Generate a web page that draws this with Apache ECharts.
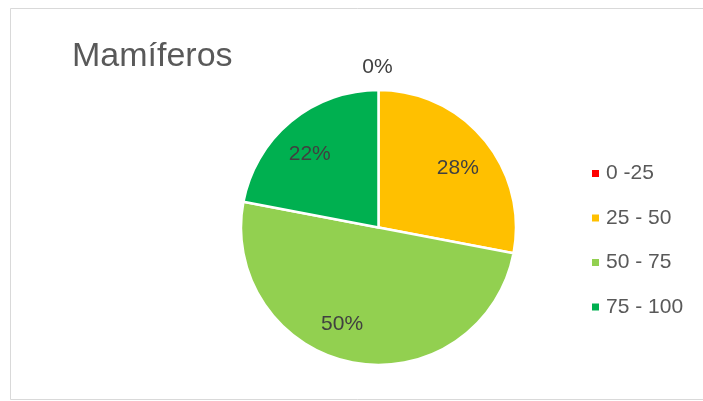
<!DOCTYPE html>
<html>
<head>
<meta charset="utf-8">
<script src="https://cdn.jsdelivr.net/npm/echarts@6/dist/echarts.min.js"></script>
<style>
  html, body { margin: 0; padding: 0; background: #fff; }
  #chart { width: 703px; height: 401px; }
</style>
</head>
<body>
<div id="chart"></div>
<script>
// Share of mammal records per score band (percent)
const titleText = 'Mamíferos';
const categories = ['0 -25', '25 - 50', '50 - 75', '75 - 100'];
const values = [0, 28, 50, 22];
const colors = ['#FF0000', '#FFC000', '#92D050', '#00B050'];

// Label nudges so each percentage sits where the chart places it
const labelOffsets = [[-1, -89], [24, -14], [-23, 26], [-23, -18]];

const chart = echarts.init(document.getElementById('chart'), null, { renderer: 'canvas' });

const pieData = categories.map((name, i) => ({
  name: name,
  value: values[i],
  itemStyle: { color: colors[i] },
  label: { offset: labelOffsets[i] }
}));

chart.setOption({
  animation: false,
  backgroundColor: '#ffffff',
  graphic: [{
    type: 'polyline',
    shape: { points: [[740, 8.5], [10.5, 8.5], [10.5, 399.5], [740, 399.5]] },
    style: { fill: 'none', stroke: '#d9d9d9', lineWidth: 1 },
    silent: true,
    z: -1
  }],
  title: {
    text: titleText,
    left: 67,
    top: 35,
    textStyle: {
      fontFamily: 'Liberation Sans',
      fontSize: 34,
      fontWeight: 'normal',
      color: '#595959'
    }
  },
  legend: {
    orient: 'vertical',
    left: 585,
    top: 158,
    icon: 'rect',
    itemWidth: 9,
    itemHeight: 9,
    itemGap: 23.5,
    data: categories,
    textStyle: {
      fontFamily: 'Liberation Sans',
      fontSize: 21,
      lineHeight: 21,
      color: '#595959',
      padding: [0, 0, 0, 1]
    }
  },
  series: [{
    type: 'pie',
    center: [378.5, 227.5],
    radius: 137.5,
    startAngle: 90,
    clockwise: true,
    data: pieData,
    itemStyle: { borderColor: '#ffffff', borderWidth: 2.5 },
    label: {
      show: true,
      position: 'inside',
      formatter: (p) => p.value + '%',
      fontFamily: 'Liberation Sans',
      fontSize: 21,
      color: '#404040'
    },
    labelLine: { show: false },
    emphasis: { disabled: true }
  }]
});
</script>
</body>
</html>
